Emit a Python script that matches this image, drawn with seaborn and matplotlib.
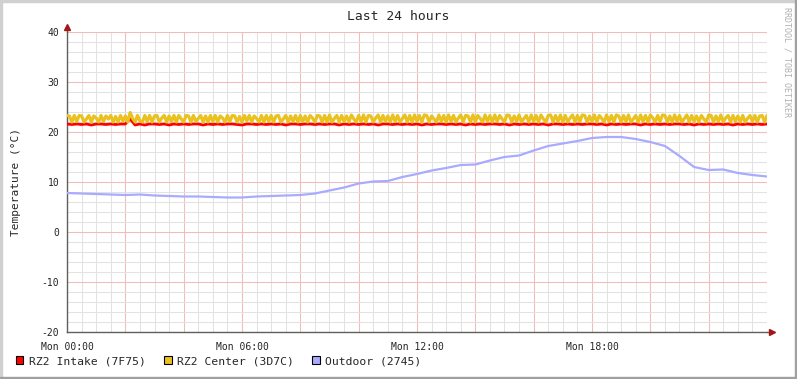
import matplotlib
matplotlib.use("Agg")
import matplotlib.pyplot as plt
from matplotlib.patches import Patch, Rectangle
from matplotlib.ticker import MultipleLocator
import numpy as np
import pandas as pd
import seaborn as sns

# ---- data ----
title = "Last 24 hours"
y_label = "Temperature (°C)"
watermark = "RRDTOOL / TOBI OETIKER"
series_names = ["RZ2 Intake (7F75)", "RZ2 Center (3D7C)", "Outdoor (2745)"]
series_colors = ["#ff0000", "#eac21f", "#aaaaff"]
series_widths = [2.0, 2.3, 1.6]
x_tick_hours = [0, 6, 12, 18]
x_tick_labels = ["Mon 00:00", "Mon 06:00", "Mon 12:00", "Mon 18:00"]

# 10-minute samples, Mon 00:00 .. Tue 00:00
intake = [
    21.6, 21.5, 21.6, 21.5, 21.6, 21.4,
    21.6, 21.6, 21.5, 21.6, 21.5, 21.6,
    21.6, 22.6, 21.4, 21.6, 21.4, 21.6,
    21.6, 21.5, 21.6, 21.4, 21.6, 21.5,
    21.6, 21.5, 21.6, 21.6, 21.4, 21.6,
    21.5, 21.6, 21.5, 21.6, 21.6, 21.5,
    21.4, 21.6, 21.6, 21.5, 21.6, 21.5,
    21.6, 21.5, 21.6, 21.4, 21.6, 21.6,
    21.5, 21.6, 21.6, 21.5, 21.6, 21.5,
    21.6, 21.6, 21.4, 21.6, 21.5, 21.6,
    21.5, 21.6, 21.5, 21.6, 21.4, 21.6,
    21.6, 21.5, 21.6, 21.5, 21.6, 21.5,
    21.6, 21.4, 21.6, 21.5, 21.6, 21.6,
    21.5, 21.6, 21.5, 21.6, 21.4, 21.6,
    21.5, 21.6, 21.5, 21.6, 21.6, 21.5,
    21.6, 21.4, 21.6, 21.5, 21.6, 21.5,
    21.6, 21.5, 21.6, 21.4, 21.6, 21.6,
    21.5, 21.6, 21.5, 21.6, 21.5, 21.6,
    21.6, 21.5, 21.6, 21.4, 21.6, 21.5,
    21.6, 21.5, 21.6, 21.6, 21.4, 21.6,
    21.5, 21.6, 21.5, 21.6, 21.5, 21.6,
    21.6, 21.5, 21.6, 21.4, 21.6, 21.5,
    21.6, 21.5, 21.6, 21.5, 21.6, 21.4,
    21.6, 21.5, 21.6, 21.5, 21.6, 21.5,
    21.6,
]
# 5-minute samples
center = [
    23.3, 23.2, 22.0, 23.3, 22.1, 23.3, 23.2, 22.0, 22.6, 23.3, 22.0, 23.2,
    22.8, 22.0, 23.3, 22.1, 23.2, 22.6, 23.3, 22.0, 23.1, 22.0, 23.3, 22.2,
    23.2, 22.0, 23.9, 22.7, 22.0, 23.3, 22.2, 22.0, 23.3, 22.1, 23.3, 22.0,
    23.2, 23.3, 22.0, 22.8, 23.3, 22.0, 23.2, 22.1, 23.3, 22.0, 23.3, 22.6,
    22.0, 23.3, 23.2, 22.0, 23.3, 22.1, 22.7, 23.3, 22.0, 23.2, 22.0, 23.3,
    22.1, 23.3, 22.0, 23.2, 22.8, 22.0, 23.3, 22.1, 23.3, 23.2, 22.0, 23.1,
    22.0, 23.3, 22.2, 23.3, 22.0, 23.2, 22.7, 22.0, 23.3, 22.0, 23.3, 22.1,
    23.3, 22.0, 23.2, 23.3, 22.0, 22.6, 23.3, 22.0, 23.2, 22.1, 23.3, 22.0,
    23.3, 22.1, 23.2, 22.0, 23.3, 22.8, 22.0, 23.3, 23.2, 22.0, 23.3, 22.0,
    23.4, 22.0, 22.7, 23.3, 22.0, 23.3, 22.1, 23.2, 22.0, 23.4, 22.6, 22.0,
    23.3, 22.1, 23.4, 22.0, 23.3, 23.2, 22.0, 22.8, 23.4, 22.0, 23.3, 22.1,
    23.2, 22.0, 23.4, 22.1, 23.3, 22.0, 22.7, 23.4, 22.0, 23.3, 22.0, 23.4,
    22.1, 23.3, 22.0, 23.4, 23.3, 22.0, 23.2, 22.6, 22.0, 23.4, 22.1, 23.3,
    22.0, 23.4, 22.1, 23.3, 22.0, 22.8, 23.4, 22.0, 23.3, 23.2, 22.0, 23.4,
    22.0, 23.3, 22.7, 22.0, 23.4, 22.1, 23.3, 22.0, 23.4, 22.1, 23.3, 22.6,
    22.0, 23.4, 23.3, 22.0, 23.2, 22.1, 23.4, 22.0, 22.7, 23.3, 22.0, 23.4,
    22.1, 23.3, 22.0, 23.4, 22.6, 22.0, 23.3, 23.4, 22.0, 23.3, 22.1, 23.4,
    22.0, 23.3, 22.0, 22.8, 23.4, 22.0, 23.3, 22.1, 23.4, 23.3, 22.0, 23.2,
    22.1, 23.4, 22.0, 23.3, 22.7, 22.0, 23.4, 22.1, 23.3, 22.0, 23.4, 23.2,
    22.0, 23.3, 22.1, 23.4, 22.0, 22.6, 23.3, 22.0, 23.4, 22.1, 23.3, 22.0,
    23.4, 22.8, 22.0, 23.3, 22.1, 23.4, 23.3, 22.0, 23.2, 22.0, 23.4, 22.1,
    23.3, 22.0, 22.7, 23.4, 22.0, 23.3, 22.1, 23.2, 22.0, 23.3, 22.6, 22.0,
    23.4, 23.3, 22.0, 23.2, 22.1, 23.4, 22.0, 22.8, 23.3, 22.0, 23.3, 22.1,
    23.2, 22.0, 23.3, 22.0, 22.7, 23.3, 22.1, 23.3, 22.0, 23.2, 23.3, 22.0,
    23.3,
]
# 30-minute samples
outdoor = [
    7.8, 7.7, 7.6, 7.5, 7.4, 7.5, 7.3, 7.2, 7.1, 7.1, 7.0, 6.9,
    6.9, 7.1, 7.2, 7.3, 7.4, 7.7, 8.3, 8.9, 9.7, 10.1, 10.2, 11.0,
    11.6, 12.3, 12.8, 13.4, 13.5, 14.3, 15.0, 15.3, 16.3, 17.2, 17.7, 18.2,
    18.8, 19.0, 19.0, 18.6, 18.0, 17.2, 15.2, 13.0, 12.4, 12.5, 11.8, 11.4,
    11.1,
]

df = pd.concat([
    pd.DataFrame({"hour": np.arange(len(intake)) / 6, "temp": intake,
                  "series": series_names[0]}),
    pd.DataFrame({"hour": np.arange(len(center)) / 12, "temp": center,
                  "series": series_names[1]}),
    pd.DataFrame({"hour": np.arange(len(outdoor)) / 2, "temp": outdoor,
                  "series": series_names[2]}),
])

sns.set_style("white")
plt.rcParams['font.family'] = ['DejaVu Sans Mono', 'DejaVu Sans']

W, H = 797, 379
fig = plt.figure(figsize=(W / 100, H / 100), dpi=100)
ax = fig.add_axes([67 / W, (H - 332) / H, 700 / W, 300 / H])

for name, color, lw in zip(series_names, series_colors, series_widths):
    sns.lineplot(data=df[df["series"] == name], x="hour", y="temp", color=color,
                 linewidth=lw, ax=ax, legend=False, zorder=3)

ax.set_xlim(0, 24)
ax.set_ylim(-20, 40)
ax.set_xlabel("")
ax.set_ylabel("")

ax.xaxis.set_major_locator(MultipleLocator(2))
ax.xaxis.set_minor_locator(MultipleLocator(0.5))
ax.yaxis.set_major_locator(MultipleLocator(10))
ax.yaxis.set_minor_locator(MultipleLocator(2))
ax.set_xticklabels([x_tick_labels[x_tick_hours.index(int(t))] if int(t) in x_tick_hours else ""
                    for t in ax.get_xticks()])
ax.set_yticklabels([f"{int(t)}" for t in ax.get_yticks()])

ax.grid(which="minor", color="#e2e2e2", linewidth=0.75)
ax.grid(which="major", color="#f3bcbc", linewidth=0.75)
ax.set_axisbelow(True)

ax.tick_params(axis="x", which="major", direction="out", length=3, color="#f1b7b7",
               labelsize=7, pad=4)
ax.tick_params(axis="x", which="minor", direction="out", length=2, color="#cccccc")
ax.tick_params(axis="y", which="major", direction="out", length=3, color="#606060",
               labelsize=7, pad=2.5)
ax.tick_params(axis="y", which="minor", length=0)

for side in ["top", "right"]:
    ax.spines[side].set_visible(False)
for side in ["left", "bottom"]:
    ax.spines[side].set_color("#606060")
    ax.spines[side].set_linewidth(1)

# rrdtool style axis arrows
ax.plot([0, 0], [1, 1.014], color="#606060", lw=1, transform=ax.transAxes, clip_on=False)
ax.plot([1, 1.005], [0, 0], color="#606060", lw=1, transform=ax.transAxes, clip_on=False)
ax.plot([0], [1.016], marker="^", markersize=4, color="#a01818", transform=ax.transAxes,
        clip_on=False)
ax.plot([1.007], [0], marker=">", markersize=4, color="#a01818", transform=ax.transAxes,
        clip_on=False)

fig.text(0.5, 1 - 16 / H, title, ha="center", va="center", fontsize=9.4)
fig.text(16 / W, 1 - 182 / H, y_label, ha="center", va="center", rotation=90, fontsize=8)
fig.text(787 / W, 1 - 7 / H, watermark, ha="center", va="top", rotation=270,
         fontsize=6, color="#b0b0b0")

handles = [Patch(facecolor=c, edgecolor="black", linewidth=0.8, label=n)
           for n, c in zip(series_names, series_colors)]
fig.legend(handles=handles, loc="center left", bbox_to_anchor=(16 / W, 1 - 361 / H),
           ncol=3, frameon=False, fontsize=8.2, handlelength=0.65, handleheight=0.65,
           handletextpad=0.5, columnspacing=1.6, borderpad=0, borderaxespad=0)

# frame around the image
fig.patches.append(Rectangle((0, 0), 2 / W, 1, transform=fig.transFigure, color="#d0d0d0"))
fig.patches.append(Rectangle((0, 1 - 2 / H), 1, 2 / H, transform=fig.transFigure, color="#d0d0d0"))
fig.patches.append(Rectangle((1 - 2 / W, 0), 2 / W, 1, transform=fig.transFigure, color="#a0a0a0"))
fig.patches.append(Rectangle((0, 0), 1, 2 / H, transform=fig.transFigure, color="#a0a0a0"))

fig.savefig("out.png", dpi=100)
